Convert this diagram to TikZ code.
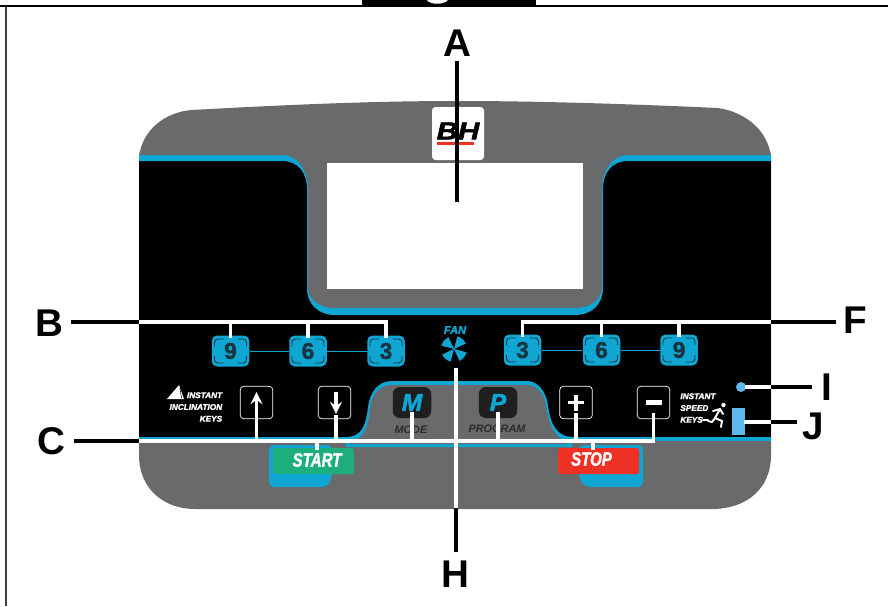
\documentclass[tikz,border=0pt]{standalone}
\usepackage{fontspec}
\setmainfont{Liberation Sans}
\newfontfamily\heavyfont{Liberation Sans}[BoldItalicFeatures={FakeBold=2},BoldFeatures={FakeBold=1.5}]
\usetikzlibrary{calc}
\definecolor{panelgrey}{HTML}{696A6C}
\definecolor{panelblue}{HTML}{0FA6D3}
\definecolor{lightblue}{HTML}{5CB9EA}
\definecolor{keygreen}{HTML}{1EAE7D}
\definecolor{keyred}{HTML}{EE3124}
\definecolor{keydark}{HTML}{1F1F20}
\definecolor{digitdark}{HTML}{173440}
\tikzset{
    callout/.style={font=\bfseries\fontsize{22}{24}\selectfont, inner sep=0pt},
    blackline/.style={line width=2.2pt, black},
    whiteline/.style={line width=2pt, white},
    numkey/.style={fill=panelblue, rounded corners=3pt, minimum width=.75cm, minimum height=.62cm, inner sep=0pt, text=digitdark, font=\heavyfont\bfseries\fontsize{13}{13}\selectfont},
    keycorner/.style={draw=digitdark, line width=.5pt, rounded corners=2pt},
    arrowkey/.style={draw=white, line width=.4pt, fill=black, rounded corners=2pt, minimum width=.65cm, minimum height=.65cm, inner sep=0pt},
    modekey/.style={fill=keydark, rounded corners=4pt, minimum width=.77cm, minimum height=.62cm, inner sep=0pt, text=panelblue, font=\heavyfont\bfseries\itshape\fontsize{14}{14}\selectfont},
    keytext/.style={text=white, font=\heavyfont\bfseries\itshape\fontsize{11}{11}\selectfont, xscale=.78, inner sep=0pt},
    smalltext/.style={text=white, font=\heavyfont\bfseries\itshape\fontsize{4.7}{6.7}\selectfont, inner sep=0pt},
    modetext/.style={text=keydark!85!panelgrey, font=\bfseries\itshape\fontsize{6.2}{6.2}\selectfont, inner sep=0pt},
    sign/.style={white, line width=2pt},
    iconline/.style={white, line width=1.1pt, line cap=round}
}
\begin{document}
\begin{tikzpicture}[x=.02cm,y=-.02cm]
    \useasboundingbox (0,0) rectangle (888,606);

    \draw[black!75, line width=.9pt] (6,6)--(6,606);
    \draw[black, line width=1.2pt] (0,6)--(888,6);
    \fill[black] (362,0) rectangle (536,6);
    \fill[white] (427,0) .. controls (430,5) and (444,5) .. (448,0) -- cycle;

    % panel
    \fill[panelgrey] (139,157) .. controls (142,130) and (165,112) .. (192,110)
        .. controls (300,104) and (380,101) .. (457,101)
        .. controls (540,101) and (630,104) .. (718,108)
        .. controls (745,112) and (768,130) .. (771,157)
        -- (771,455) .. controls (771,490) and (745,509) .. (712,509)
        -- (195,509) .. controls (165,509) and (139,490) .. (139,455) -- cycle;
    \fill[black] (139,157) rectangle (771,437);
    \fill[panelblue] (139,155) -- (139,161) -- (282,161) .. controls (298,161) and (307,172) .. (307,190)
        -- (307,288) .. controls (307,304) and (318,315) .. (335,315)
        -- (575,315) .. controls (592,315) and (603,304) .. (603,288)
        -- (603,190) .. controls (603,172) and (612,161) .. (628,161)
        -- (771,161) -- (771,155) -- cycle;
    \fill[panelgrey] (140,152) -- (139,155) -- (282,155) .. controls (298,155) and (308,170) .. (308,190)
        -- (308,288) .. controls (309,300) and (320,308) .. (335,308)
        -- (575,308) .. controls (590,308) and (601,300) .. (602,288)
        -- (602,190) .. controls (602,170) and (612,155) .. (628,155)
        -- (771,155) -- (770,152) -- cycle;
    \fill[white] (327,163) rectangle (583,289);

    % lower band
    \fill[panelblue] (139,437) rectangle (771,441);
    \fill[panelblue] (346,437) .. controls (362,437) and (366,425) .. (368,407)
        .. controls (370,392) and (378,381) .. (392,381) -- (527,381)
        .. controls (538,381) and (546,392) .. (548,405)
        .. controls (550,425) and (558,437) .. (572,437) -- (572,447) -- (346,447) -- cycle;
    \fill[panelgrey] (350,441) .. controls (364,440) and (369,425) .. (370,408)
        .. controls (372,394) and (380,385) .. (392,385) -- (527,385)
        .. controls (537,385) and (544,394) .. (546,405)
        .. controls (548,425) and (556,440) .. (568,441) -- (568,444) -- (350,444) -- cycle;

    % logo
    \fill[white, rounded corners=2pt] (432,107) rectangle (484,160);
    \node[inner sep=0pt, font=\heavyfont\bfseries\itshape\fontsize{14}{14}\selectfont, xscale=1.2] (logo) at (458,131) {BH};
    \fill[keyred] (437,142) rectangle (474,145);

    % number keys
    \node[numkey] (bnine) at (230.5,351) {9};
    \node[numkey] (bsix) at (308,351) {6};
    \node[numkey] (bthree) at (386,351) {3};
    \node[numkey] (fthree) at (522.5,350) {3};
    \node[numkey] (fsix) at (601.5,350) {6};
    \node[numkey] (fnine) at (679,350) {9};
    \draw[panelblue, line width=.5pt] (bnine)--(bsix)--(bthree) (fthree)--(fsix)--(fnine);
    \foreach \k in {bnine,bsix,bthree,fthree,fsix,fnine}{
        \foreach \sx/\sy in {1/1,1/-1,-1/1,-1/-1}
            \draw[keycorner, shift={(\k)}] (\sx*16,\sy*5) -- (\sx*16,\sy*12) -- (\sx*7,\sy*12);
    }

    % fan
    \coordinate (fan) at (454,349);
    \foreach \a in {-75,15,105,195}
        \fill[panelblue] (fan) -- ++(\a:13) arc [start angle=\a, end angle=\a+50, radius=13] -- cycle;
    \node[text=panelblue, font=\heavyfont\bfseries\itshape\fontsize{6.3}{6.3}\selectfont, inner sep=0pt] (fantext) at (455,330) {FAN};

    % arrow and sign keys
    \node[arrowkey] (up) at (256.5,402.5) {};
    \node[arrowkey] (down) at (334.5,402.5) {};
    \node[arrowkey] (plus) at (576,402.5) {};
    \node[arrowkey] (minus) at (653.5,402.5) {};
    \node[modekey] (mode) at (412,402.5) {M};
    \node[modekey] (program) at (498,402.5) {P};
    \node[modetext] (modetxt) at (411,430) {MODE};
    \node[modetext] (programtxt) at (497,429) {PROGRAM};

    \draw[->,>=stealth, sign] ($(up.south)+(0,-5)$) -- ($(up.south)+(0,-27)$);
    \draw[->,>=stealth, sign] ($(down.north)+(1.5,6)$) -- ($(down.north)+(1.5,28)$);
    \draw[sign] ($(plus.center)+(-8,0)$) -- ($(plus.center)+(8,0)$) (plus.center) ++(0,-8) -- ++(0,16);
    \draw[sign, line width=2.4pt] ($(minus.center)+(-8,0)$) -- ($(minus.center)+(8,0)$);

    % start and stop
    \fill[panelblue, rounded corners=3pt] (269,445) -- (269,487) -- (327,487) -- (332,478) -- (332,445) -- cycle;
    \fill[panelblue, rounded corners=3pt] (643,445) -- (643,487) -- (585,487) -- (579,478) -- (579,445) -- cycle;
    \node[fill=keygreen, rounded corners=1pt, minimum width=1.62cm, minimum height=.52cm, inner sep=0pt] (start) at (313.5,461) {};
    \node[fill=keyred, rounded corners=1pt, minimum width=1.62cm, minimum height=.52cm, inner sep=0pt] (stop) at (598.5,461) {};
    \node[keytext] (starttxt) at (317,460) {START};
    \node[keytext] (stoptxt) at (591.5,459) {STOP};

    % small texts and icons
    \node[smalltext, align=right, anchor=east] (inclin) at (222.5,407) {INSTANT\\INCLINATION\\KEYS};
    \fill[white] (167,399) -- (179,385) -- (184,399) -- cycle;
    \draw[black, line width=.3pt] (180,388) -- (181.5,398);
    \node[smalltext, align=left, anchor=west] (speed) at (680,408) {INSTANT\\SPEED\\KEYS};
    \fill[white] (723.5,405) circle [radius=2.2];
    \draw[iconline] (720,409) -- (715,418) -- (722,421) -- (721,427) (715,418) -- (712,422) -- (708,421) (720,409) -- (723,414) (720,409) -- (713,411);
    \draw[iconline] (703,420) -- (708,420);
    \fill[lightblue] (741,387) circle [radius=5];
    \fill[lightblue] (732,408) rectangle (745,435);

    % callouts
    \node[callout] (A) at (457,43) {A};
    \node[callout] (B) at (49.5,323) {B};
    \node[callout] (C) at (51,441) {C};
    \node[callout] (F) at (855,320) {F};
    \node[callout] (H) at (455,574) {H};
    \node[callout] (I) at (827,387) {I};
    \node[callout] (J) at (813,426) {J};

    \coordinate (Aend) at (457,202);
    \coordinate (Bin) at (139,322);
    \coordinate (Cin) at (139,441);
    \coordinate (Fin) at (771,322);
    \coordinate (Hin) at (456,508);
    \coordinate (Iin) at (771,387);
    \coordinate (Jin) at (771,422);
    \coordinate (Hend) at (456,368);
    \coordinate (Iend) at (745,387);
    \coordinate (Jend) at (744,422);

    \draw[blackline] (A.south) ++(0,4) -- (Aend);
    \draw[blackline] ($(Bin -| B.east)+(7,0)$) -- (Bin);
    \draw[blackline] ($(Cin -| C.east)+(9,0)$) -- (Cin);
    \draw[blackline] ($(Fin -| F.west)+(-7,0)$) -- (Fin);
    \draw[blackline] ($(Hin |- H.north)+(0,-8)$) -- (Hin);
    \draw[blackline] ($(Iin -| I.west)+(-9,0)$) -- (Iin);
    \draw[blackline] ($(Jin -| J.west)+(-5,0)$) -- (Jin);

    \draw[whiteline] (Bin) -- (bthree.north |- Bin) -- ($(bthree.north)+(0,3)$);
    \foreach \k in {bnine,bsix}
        \draw[whiteline] (\k.north |- Bin) -- ($(\k.north)+(0,3)$);
    \draw[whiteline] (Fin) -- (fthree.north |- Fin) -- ($(fthree.north)+(0,3)$);
    \foreach \k in {fsix,fnine}
        \draw[whiteline] (\k.north |- Fin) -- ($(\k.north)+(0,3)$);
    \draw[whiteline] (Cin) -- (minus.south |- Cin) -- ($(minus.south)+(0,-6)$);
    \foreach \k in {up,plus,mode,program}
        \draw[whiteline] (\k.south |- Cin) -- ($(\k.south)+(0,-6)$);
    \draw[whiteline] ($(down.south |- Cin)+(1.5,0)$) -- ($(down.south)+(1.5,-4)$);
    \draw[whiteline] (start.north -| 317,0) ++(0,-7) -- ++(0,9);
    \draw[whiteline] (stop.north -| 593,0) ++(0,-7) -- ++(0,9);
    \draw[whiteline] (Hin) -- (Hend);
    \draw[whiteline] (Iin) -- (Iend);
    \draw[whiteline] (Jin) -- (Jend);
\end{tikzpicture}
\end{document}
